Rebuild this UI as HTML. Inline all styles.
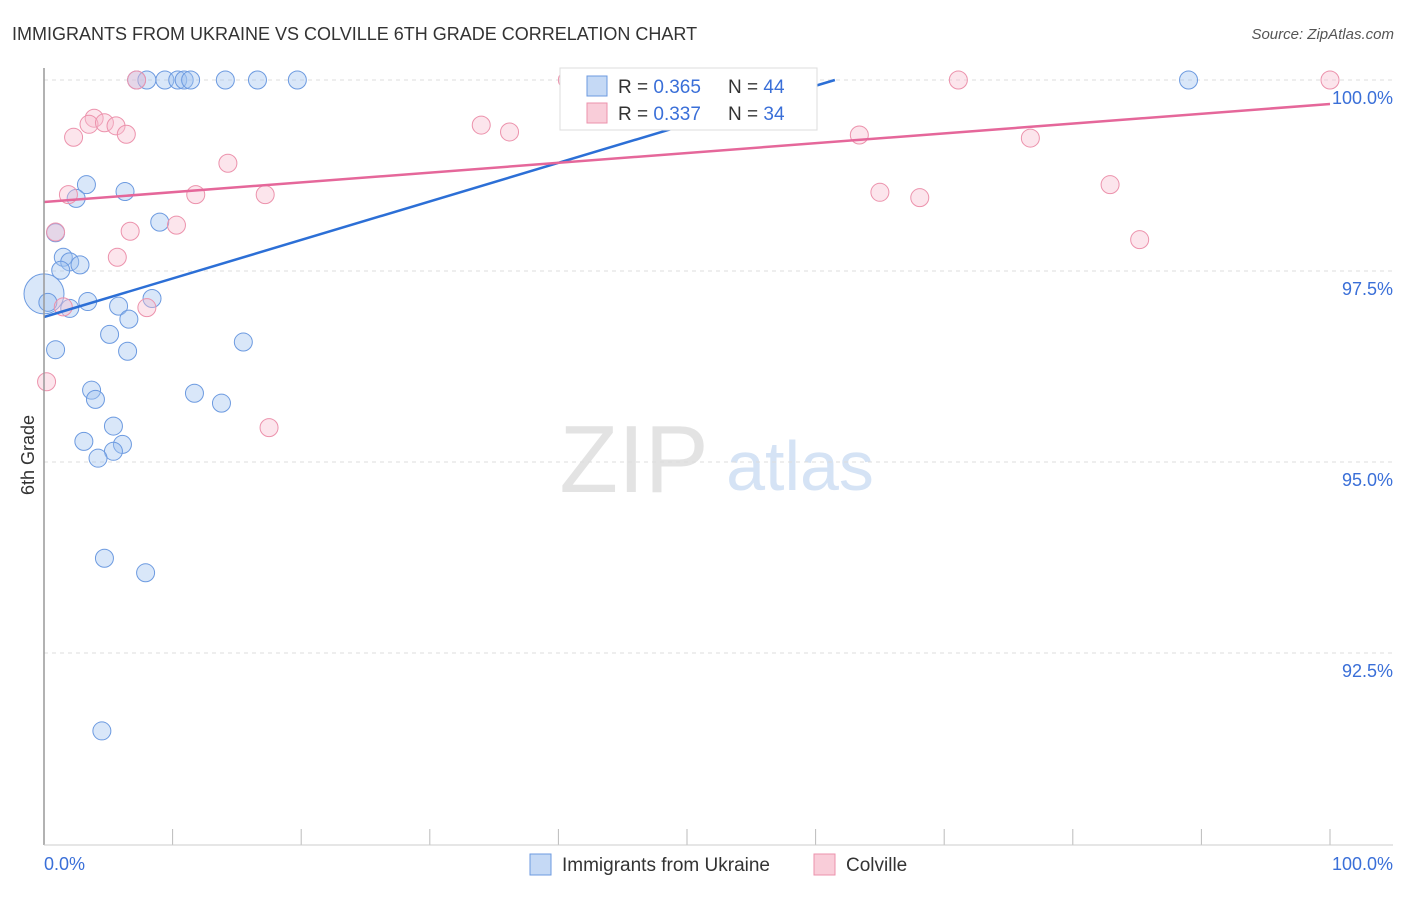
<!DOCTYPE html>
<html><head><meta charset="utf-8"><style>
body{margin:0;background:#fff;font-family:"Liberation Sans",sans-serif;}
svg text{font-family:"Liberation Sans",sans-serif;}
</style></head><body>
<svg width="1406" height="892" id="chart">
<text x="12" y="40" font-size="18" fill="#333">IMMIGRANTS FROM UKRAINE VS COLVILLE 6TH GRADE CORRELATION CHART</text>
<text x="1394" y="39" font-size="15" fill="#555" text-anchor="end" font-style="italic">Source: ZipAtlas.com</text>
<text x="634" y="492" font-size="96" fill="#e3e3e3" text-anchor="middle" font-family="Liberation Serif">ZIP</text>
<text x="800" y="490" font-size="70" fill="#d5e3f5" text-anchor="middle">atlas</text>
<text x="34" y="455" font-size="18" fill="#333" text-anchor="middle" transform="rotate(-90 34 455)">6th Grade</text>
<g id="grid"></g><g id="pts"></g><g id="lines"></g>
<line x1="44" y1="68" x2="44" y2="845" stroke="#999" stroke-width="1.5"/>
<line x1="44" y1="845" x2="1393" y2="845" stroke="#ccc" stroke-width="1"/>
<text x="44" y="870" font-size="18" fill="#3a6fd8">0.0%</text>
<text x="1393" y="870" font-size="18" fill="#3a6fd8" text-anchor="end">100.0%</text>
<g>
<rect x="560" y="68" width="257" height="62" fill="#fff" stroke="#ddd"/>
<rect x="587" y="76" width="20" height="20" fill="#c5d9f5" stroke="#6c9ae0"/>
<rect x="587" y="103" width="20" height="20" fill="#f9cdd9" stroke="#ec92ac"/>
<text x="618" y="93" font-size="19" fill="#333">R = <tspan fill="#3a6fd8">0.365</tspan></text>
<text x="728" y="93" font-size="19" fill="#333">N = <tspan fill="#3a6fd8">44</tspan></text>
<text x="618" y="120" font-size="19" fill="#333">R = <tspan fill="#3a6fd8">0.337</tspan></text>
<text x="728" y="120" font-size="19" fill="#333">N = <tspan fill="#3a6fd8">34</tspan></text>
</g>
<g>
<rect x="530" y="854" width="21" height="21" fill="#c5d9f5" stroke="#6c9ae0"/>
<text x="562" y="871" font-size="19" fill="#333">Immigrants from Ukraine</text>
<rect x="814" y="854" width="21" height="21" fill="#f9cdd9" stroke="#ec92ac"/>
<text x="846" y="871" font-size="19" fill="#333">Colville</text>
</g>
</svg>
<script>
const yTicks=[100,97.5,95,92.5];
const yTickLabels=["100.0%","97.5%","95.0%","92.5%"];
const xTickVals=[10,20,30,40,50,60,70,80,90,100];
const blueX=[7.2,8.0,9.4,10.4,10.9,11.4,14.1,16.6,19.7,89.0,3.3,2.5,6.3,9.0,0.9,1.5,2.0,2.8,1.3,0.0,0.3,3.4,2.0,5.8,8.4,6.6,5.1,0.9,6.5,15.5,3.7,4.0,11.7,13.8,5.4,3.1,6.1,5.4,4.2,4.7,7.9,4.5];
const blueY=[100,100,100,100,100,100,100,100,100,100,98.63,98.45,98.54,98.14,98.00,97.68,97.62,97.58,97.51,97.20,97.09,97.10,97.01,97.04,97.14,96.87,96.67,96.47,96.45,96.57,95.94,95.82,95.90,95.77,95.47,95.27,95.23,95.14,95.05,93.74,93.55,91.48];
const blueR=[9,9,9,9,9,9,9,9,9,9,9,9,9,9,9,9,9,9,9,20,9,9,9,9,9,9,9,9,9,9,9,9,9,9,9,9,9,9,9,9,9,9];
const pinkX=[7.2,40.7,71.1,100,3.9,3.5,4.7,5.6,2.3,6.4,34.0,36.2,14.3,63.4,76.7,1.9,11.8,17.2,65.0,68.1,82.9,0.9,6.7,10.3,5.7,85.2,1.5,8.0,0.2,17.5,46.0,50.0,54.0,58.0];
const pinkY=[100,100,100,100,99.50,99.42,99.44,99.40,99.25,99.29,99.41,99.32,98.91,99.28,99.24,98.50,98.50,98.50,98.53,98.46,98.63,98.01,98.02,98.10,97.68,97.91,97.03,97.02,96.05,95.45,100,100,100,100];
const blueLine=[96.898,0.05044];
const pinkLine=[98.403,0.01283];
const NS="http://www.w3.org/2000/svg";
const X=v=>44+v*12.86;
const Y=v=>80+(100-v)/2.5*191;
function mk(t,a,p){const e=document.createElementNS(NS,t);for(const k in a)e.setAttribute(k,a[k]);p.appendChild(e);return e;}
const g=document.getElementById('grid');
yTicks.forEach((t,i)=>{
 const l=mk('line',{x1:44,x2:1393,y1:Y(t),y2:Y(t),stroke:'#ddd','stroke-dasharray':'4,4'},g);
 
 
 const tx=mk('text',{x:1393,y:Y(t)+24,'font-size':18,fill:'#3a6fd8','text-anchor':'end'},g);
 tx.textContent=yTickLabels[i];
 
 
});
xTickVals.forEach(v=>{
 const l=mk('line',{x1:X(v),x2:X(v),y1:829,y2:845,stroke:'#bbb'},g);
 
 
});
const p=document.getElementById('pts');
blueX.forEach((x,i)=>{
 const c=mk('circle',{cx:X(x),cy:Y(blueY[i]),r:blueR[i],fill:'rgba(160,195,240,0.4)',stroke:'#6c9ae0','stroke-width':1},p);
 
 
});
pinkX.forEach((x,i)=>{
 const c=mk('circle',{cx:X(x),cy:Y(pinkY[i]),r:9,fill:'rgba(248,190,208,0.4)',stroke:'#ec92ac','stroke-width':1},p);
 
 
});
const L=document.getElementById('lines');
const bEnd=(100-blueLine[0])/blueLine[1];
const bl=mk('line',{x1:X(0),y1:Y(blueLine[0]),x2:X(bEnd),y2:Y(100),stroke:'#2c6fd6','stroke-width':2.5},L);


const pl=mk('line',{x1:X(0),y1:Y(pinkLine[0]),x2:X(100),y2:Y(pinkLine[0]+100*pinkLine[1]),stroke:'#e5679a','stroke-width':2.5},L);


</script>
</body></html>
